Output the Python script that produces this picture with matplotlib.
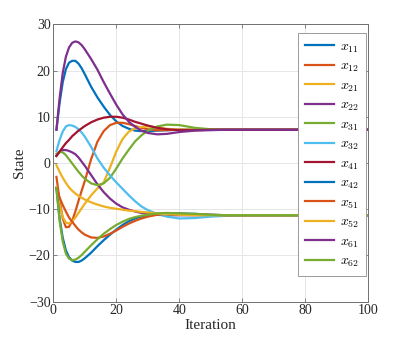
import matplotlib
matplotlib.use("Agg")
import matplotlib.pyplot as plt

plt.rcParams['font.family'] = ['Liberation Serif', 'DejaVu Serif']
plt.rcParams['mathtext.fontset'] = 'cm'

iters = [1, 2, 3, 4, 5, 6, 7, 8, 9, 10, 12, 14, 16, 18, 20, 22, 24, 26, 28, 30,
         33, 36, 40, 45, 50, 55, 60, 70, 80, 90, 100]

x11 = [7.2, 13.0, 17.5, 20.3, 21.7, 22.1, 22.1, 21.5, 20.5, 19.2, 16.5, 14.2, 12.2, 10.4, 9.0, 8.0, 7.4, 7.0, 6.9, 6.9,
       7.0, 7.1, 7.2, 7.2, 7.2, 7.2, 7.2, 7.2, 7.2, 7.2, 7.2]
x12 = [-3.0, -8.0, -12.0, -13.9, -13.8, -12.5, -10.5, -8.2, -6.0, -3.9, 0.8, 4.6, 6.9, 8.2, 8.7, 8.7, 8.4, 8.0, 7.6, 7.3,
       7.1, 7.1, 7.2, 7.2, 7.2, 7.2, 7.2, 7.2, 7.2, 7.2, 7.2]
x21 = [-5.2, -9.0, -11.7, -12.9, -13.1, -12.6, -11.8, -10.8, -9.8, -8.8, -7.0, -5.5, -4.2, -1.0, 2.5, 5.2, 6.8, 7.5, 7.8, 7.9,
       7.7, 7.4, 7.2, 7.2, 7.2, 7.2, 7.2, 7.2, 7.2, 7.2, 7.2]
x22 = [1.6, 2.4, 2.8, 2.8, 2.6, 2.3, 1.9, 1.2, 0.3, -0.6, -2.6, -4.6, -6.3, -7.7, -8.8, -9.6, -10.1, -10.5, -10.8, -11.0,
       -11.2, -11.3, -11.3, -11.3, -11.3, -11.3, -11.3, -11.3, -11.3, -11.3, -11.3]
x31 = [2.0, 2.4, 2.3, 1.7, 0.8, -0.1, -1.0, -1.9, -2.7, -3.4, -4.4, -4.8, -4.4, -3.2, -1.2, 1.0, 2.9, 4.7, 6.0, 7.0,
       7.9, 8.3, 8.2, 7.6, 7.3, 7.2, 7.2, 7.2, 7.2, 7.2, 7.2]
x32 = [2.6, 5.0, 6.8, 7.9, 8.2, 8.1, 7.8, 7.3, 6.6, 5.7, 3.5, 1.0, -1.0, -2.7, -4.2, -5.6, -7.0, -8.3, -9.4, -10.2,
       -11.0, -11.6, -12.0, -11.9, -11.6, -11.4, -11.3, -11.3, -11.3, -11.3, -11.3]
x41 = [1.5, 2.5, 3.4, 4.3, 5.0, 5.8, 6.4, 7.0, 7.5, 8.0, 8.8, 9.4, 9.8, 10.0, 10.0, 9.8, 9.4, 8.9, 8.5, 8.1,
       7.6, 7.3, 7.1, 7.1, 7.2, 7.2, 7.2, 7.2, 7.2, 7.2, 7.2]
x42 = [-5.5, -12.0, -16.2, -18.9, -20.4, -21.1, -21.4, -21.4, -21.1, -20.6, -19.4, -18.0, -16.7, -15.5, -14.4, -13.4, -12.6, -12.0, -11.6, -11.3,
       -11.0, -10.9, -10.9, -11.0, -11.2, -11.3, -11.3, -11.3, -11.3, -11.3, -11.3]
x51 = [-5.5, -7.5, -9.1, -10.5, -11.8, -12.7, -13.6, -14.4, -15.0, -15.5, -16.1, -16.2, -15.9, -15.3, -14.6, -13.8, -13.1, -12.5, -12.0, -11.6,
       -11.2, -11.0, -11.0, -11.1, -11.2, -11.3, -11.3, -11.3, -11.3, -11.3, -11.3]
x52 = [-0.5, -1.9, -3.2, -4.3, -5.3, -6.0, -6.6, -7.1, -7.5, -7.9, -8.5, -9.0, -9.4, -9.7, -9.9, -10.1, -10.3, -10.4, -10.6, -10.7,
       -10.9, -11.1, -11.2, -11.3, -11.3, -11.3, -11.3, -11.3, -11.3, -11.3, -11.3]
x61 = [7.2, 14.0, 19.5, 23.0, 25.0, 26.0, 26.3, 26.1, 25.5, 24.6, 22.5, 20.2, 17.5, 15.0, 12.6, 10.5, 8.9, 7.8, 7.0, 6.5,
       6.2, 6.3, 6.7, 7.0, 7.1, 7.2, 7.2, 7.2, 7.2, 7.2, 7.2]
x62 = [-5.5, -12.5, -17.0, -19.6, -20.7, -21.0, -20.9, -20.5, -19.9, -19.2, -17.8, -16.5, -15.3, -14.3, -13.4, -12.7, -12.1, -11.7, -11.4, -11.2,
       -10.9, -10.8, -10.9, -11.0, -11.2, -11.3, -11.3, -11.3, -11.3, -11.3, -11.3]

labels = ['$x_{11}$', '$x_{12}$', '$x_{21}$', '$x_{22}$', '$x_{31}$', '$x_{32}$',
          '$x_{41}$', '$x_{42}$', '$x_{51}$', '$x_{52}$', '$x_{61}$', '$x_{62}$']
series = [x11, x12, x21, x22, x31, x32, x41, x42, x51, x52, x61, x62]

colors = ['#0072BD', '#D95319', '#EDB120', '#7E2F8E', '#77AC30', '#4DBEEE', '#A2142F']

fig = plt.figure(figsize=(4.07, 3.40), dpi=100)
ax = fig.add_axes([53.3 / 407, 1 - 301.7 / 340, (368.3 - 53.3) / 407, (301.7 - 24.3) / 340])

for i, (s, lab) in enumerate(zip(series, labels)):
    ax.plot(iters, s, color=colors[i % 7], lw=1.6, label=lab)

ax.set_xlim(0, 100)
ax.set_ylim(-30, 30)
ax.set_xticks([0, 20, 40, 60, 80, 100])
ax.set_yticks([-30, -20, -10, 0, 10, 20, 30])
ax.grid(True, color='#e6e6e6', lw=0.7)
ax.set_axisbelow(True)
ax.tick_params(direction='in', top=True, right=True, length=3, width=0.6,
               color='#707070', labelsize=10, labelcolor='#262626', pad=2)
for sp in ax.spines.values():
    sp.set_color('#707070')
    sp.set_linewidth(0.7)
ax.set_xlabel('Iteration', fontsize=11, color='#262626', labelpad=1)
ax.set_ylabel('State', fontsize=11, color='#262626', labelpad=2)

leg = ax.legend(loc='upper left', bbox_to_anchor=(298.3 / 407, 1 - 33.3 / 340),
                bbox_transform=fig.transFigure, fontsize=10, frameon=True,
                fancybox=False, edgecolor='#9a9a9a', framealpha=1,
                handlelength=2.1, handletextpad=0.4, labelspacing=0.37,
                borderpad=0.5, borderaxespad=0)
leg.get_frame().set_linewidth(0.7)

fig.savefig('out.png', dpi=100)
